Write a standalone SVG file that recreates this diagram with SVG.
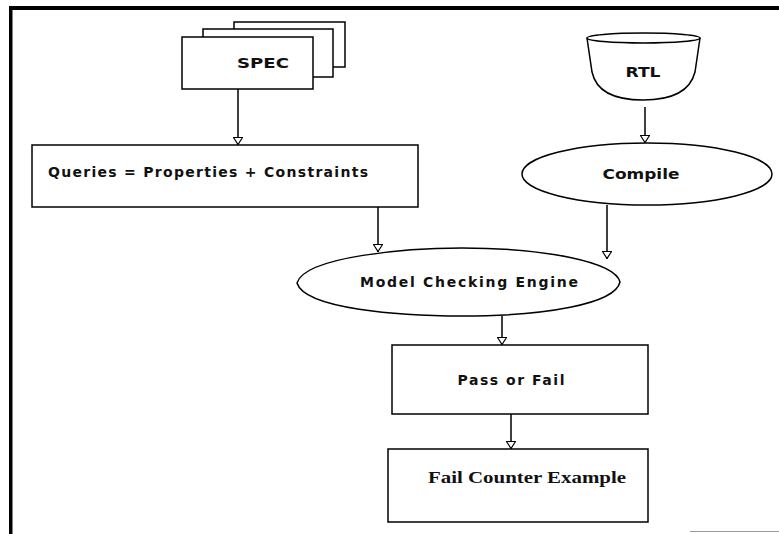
<svg xmlns="http://www.w3.org/2000/svg" width="779" height="534" viewBox="0 0 779 534">
<style>
.shape{fill:#fff;stroke:#000;stroke-width:1.5}
.lbl{font-family:"DejaVu Sans","Liberation Sans",Arial,sans-serif;font-weight:bold;font-size:14px;fill:#111}
.serif{font-family:"Liberation Serif","Times New Roman",serif;font-weight:bold;font-size:16px;fill:#111}
.conn{stroke:#000;stroke-width:1.5;fill:none;marker-end:url(#arr)}
</style>
<defs>
<marker id="arr" viewBox="0 0 8 10" refX="8" refY="5" markerWidth="8" markerHeight="10" markerUnits="userSpaceOnUse" orient="auto">
<path d="M0.5,0.5 L7.5,5 L0.5,9.5 Z" fill="#fff" stroke="#000" stroke-width="1.2"/>
</marker>
</defs>
<rect width="779" height="534" fill="#fff"/>
<g id="frame">
<rect x="10" y="6" width="769" height="4" fill="#000"/>
<rect x="9" y="6" width="3.5" height="528" fill="#000"/>
<line x1="690" y1="531.5" x2="779" y2="531.5" stroke="#999" stroke-width="1"/>
</g>
<g id="spec">
<rect class="shape" x="234" y="22" width="111" height="45"/>
<rect class="shape" x="203" y="29" width="130" height="48"/>
<rect class="shape" x="182" y="37" width="131" height="52"/>
<text class="lbl" x="263" y="68" text-anchor="middle" font-size="16" textLength="52" lengthAdjust="spacingAndGlyphs">SPEC</text>
</g>
<g id="rtl">
<path class="shape" d="M587,38 L592,72 Q598,100 643,100 Q688,100 695,72 L700,38"/>
<ellipse class="shape" cx="643.5" cy="38" rx="56.5" ry="5"/>
<text class="lbl" x="643" y="77" text-anchor="middle" textLength="35" lengthAdjust="spacingAndGlyphs">RTL</text>
</g>
<g id="queries">
<rect class="shape" x="32" y="145" width="386" height="62"/>
<text class="lbl" x="48" y="177" font-size="13.5" textLength="320" lengthAdjust="spacing">Queries = Properties + Constraints</text>
</g>
<g id="compile">
<ellipse class="shape" cx="647" cy="174" rx="125" ry="31"/>
<text class="lbl" x="641" y="179" text-anchor="middle" textLength="77" lengthAdjust="spacingAndGlyphs">Compile</text>
</g>
<g id="engine">
<path class="shape" d="M297,283 C305,256 410,248 462,248 C545,248 615,262 620,282 C615,304 545,316 462,316 C400,316 305,309 297,283 Z"/>
<text class="lbl" x="469" y="287" text-anchor="middle" textLength="218" lengthAdjust="spacing">Model Checking Engine</text>
</g>
<g id="passfail">
<rect class="shape" x="392" y="345" width="256" height="69"/>
<text class="lbl" x="511" y="385" text-anchor="middle" textLength="107" lengthAdjust="spacing">Pass or Fail</text>
</g>
<g id="counter">
<rect class="shape" x="388" y="449" width="260" height="73"/>
<text class="serif" x="527" y="483" text-anchor="middle" textLength="198" lengthAdjust="spacingAndGlyphs">Fail Counter Example</text>
</g>
<g id="connectors">
<path class="conn" d="M238,89 V145"/>
<path class="conn" d="M645,107 V143"/>
<path class="conn" d="M378,207 V252"/>
<path class="conn" d="M607,205 V259"/>
<path class="conn" d="M502,316 V345"/>
<path class="conn" d="M511,414 V449"/>
</g>
</svg>
